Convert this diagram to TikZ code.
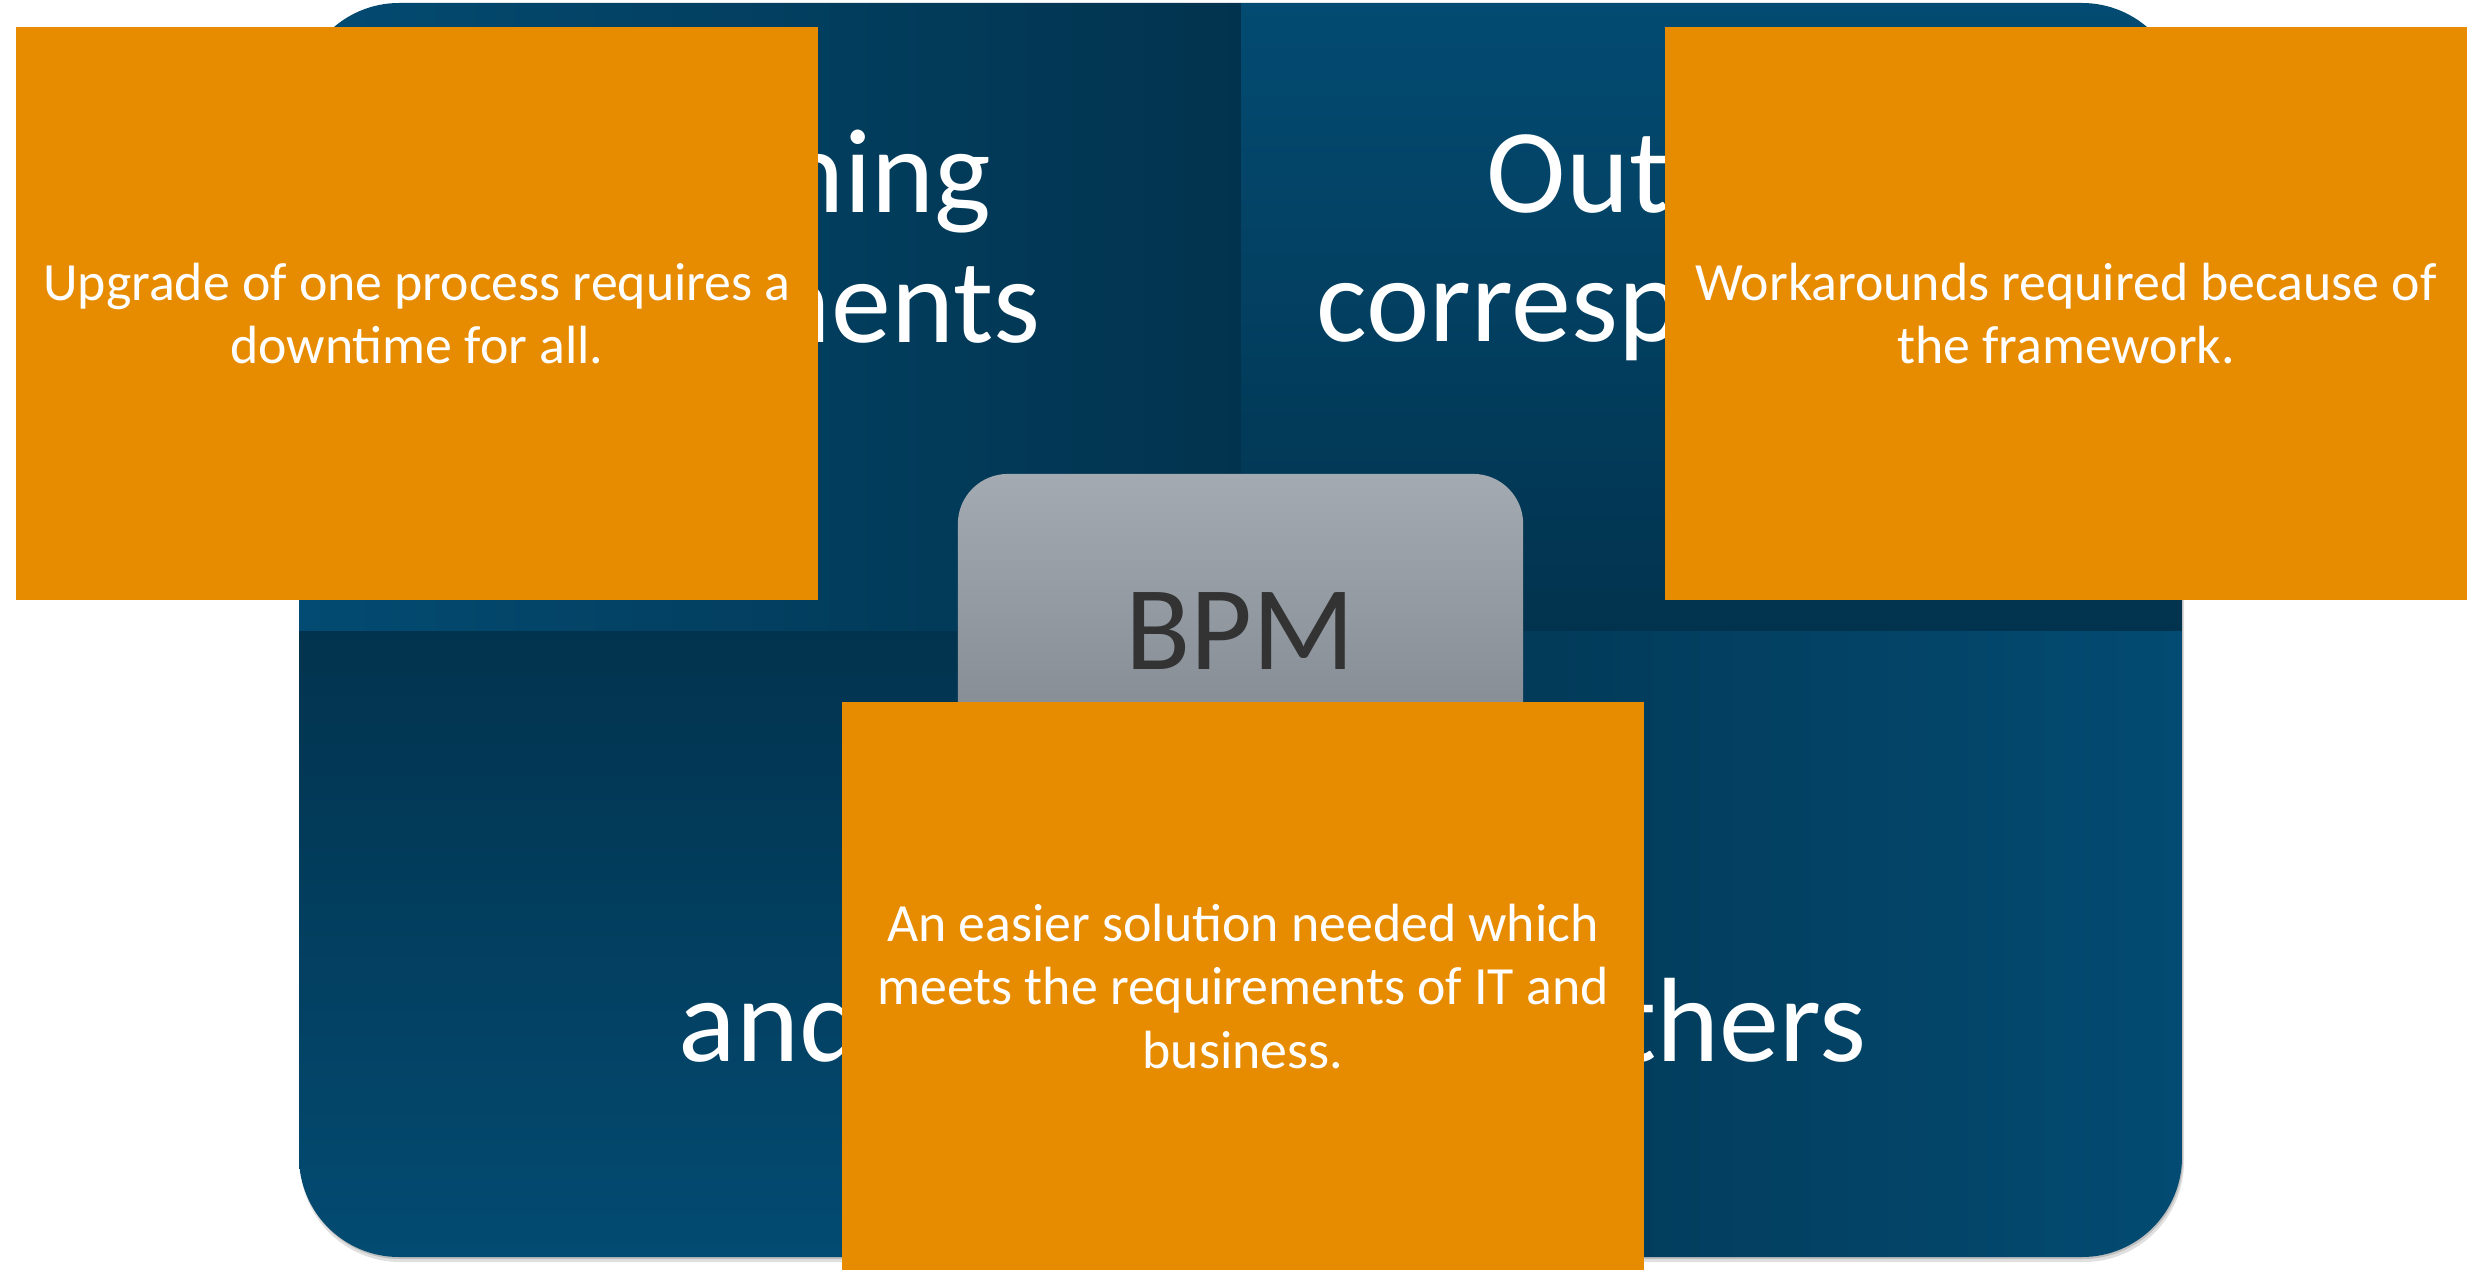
\documentclass[tikz,border=0pt]{standalone}
\usepackage{fontspec}
\setmainfont{Carlito}
\usepackage{tikz}

\definecolor{boxorange}{RGB}{231,140,0}
\definecolor{quadlight}{RGB}{3,75,114}
\definecolor{quaddark}{RGB}{2,51,78}
\definecolor{bpmtop}{RGB}{163,170,178}
\definecolor{bpmbottom}{RGB}{125,132,140}
\definecolor{bpmtext}{RGB}{51,51,51}

\begin{document}
\begin{tikzpicture}[x=0.01cm, y=-0.01cm,
  quadtext/.style={text=white, inner sep=0pt, font=\fontsize{34.1}{41}\selectfont},
  notebox/.style={fill=boxorange, text=white, inner sep=0pt, minimum width=8.02cm, minimum height=5.73cm, align=center, anchor=north west, font=\fontsize{15.3}{18}\selectfont},
  bpmbox/.style={top color=bpmtop, bottom color=bpmbottom, text=bpmtext, rounded corners=0.5cm, inner sep=0pt, minimum width=5.65cm, minimum height=3.14cm, font=\fontsize{34.1}{41}\selectfont}]
\fill[white](0,0)rectangle(2473,1270);
\useasboundingbox (0,0)rectangle(2473,1270);

\fill[black,opacity=0.12,rounded corners=1cm](300,7)rectangle(2184,1262);
\fill[black,opacity=0.15,rounded corners=1cm](300,5)rectangle(2183,1259);
\begin{scope}
\clip[rounded corners=1cm](299,3)rectangle(2182,1257);
\shade[left color=quadlight,right color=quaddark](299,3)rectangle(1241,631);
\shade[top color=quadlight,bottom color=quaddark](1241,3)rectangle(2182,631);
\shade[top color=quaddark,bottom color=quadlight](299,631)rectangle(1241,1257);
\shade[left color=quaddark,right color=quadlight](1241,631)rectangle(2182,1257);
\end{scope}

\node[quadtext,anchor=base east](tlone) at (992,213){ning};
\node[quadtext,anchor=base east](tltwo) at (1041,343){ments};
\node[quadtext,anchor=base west](trone) at (1486,213){Out};
\node[quadtext,anchor=base west](trtwo) at (1316,342){corresp};
\node[quadtext,anchor=base west](blone) at (678,1061){and};
\node[quadtext,anchor=base east](brone) at (1867,1061){thers};

\node[bpmbox](bpm) at (1240.5,631){BPM};

\node[notebox](upgrade) at (15,26){Upgrade of one process requires a\\downtime for all.};
\node[notebox](workaround) at (1664,26){Workarounds required because of\\the framework.};
\node[notebox,minimum height=5.69cm](solution) at (841,701){An easier solution needed which\\meets the requirements of IT and\\business.};
\end{tikzpicture}
\end{document}
